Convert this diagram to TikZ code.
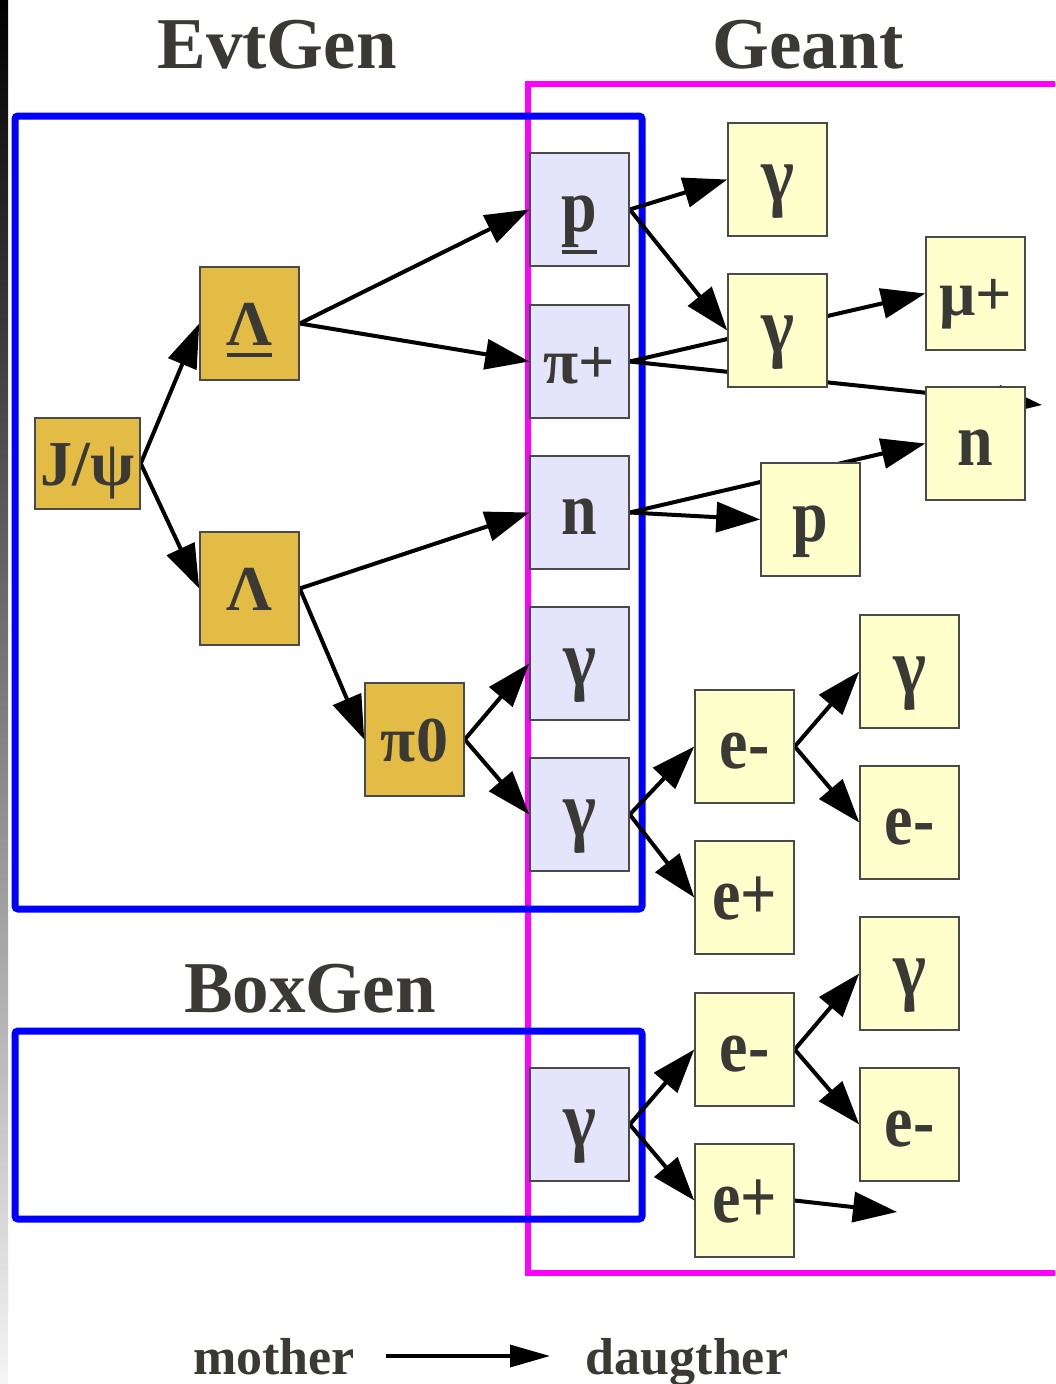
\documentclass[tikz,border=0pt]{standalone}
\usepackage{fontspec}
\usepackage{graphicx}
\setmainfont{Liberation Serif}
\usetikzlibrary{arrows.meta}
\definecolor{txt}{HTML}{3A3935}
\definecolor{gold}{HTML}{E3BC45}
\definecolor{lav}{HTML}{E4E4FA}
\definecolor{pale}{HTML}{FFFFCC}
\definecolor{mag}{HTML}{FF00FF}
\definecolor{bord}{HTML}{4A4A4A}
\newcommand\barbelow[2]{\setbox0\hbox{#2}\rlap{\raisebox{#1}{\rule{\wd0}{3.5pt}}}\box0}
\newcommand\tallt[1]{\scalebox{1}[1.18]{#1}}
\newcommand\gam{\scalebox{1.1}[1.25]{γ}}
\pgfdeclarelayer{bg}
\pgfsetlayers{bg,main}
\begin{document}
\begin{tikzpicture}[x=1pt,y=-1pt,
  pbox/.style={draw=bord, line width=1.5pt, minimum width=99pt, minimum height=113pt, inner sep=0pt, text height=48pt, text depth=4pt, text=txt, font=\fontsize{64}{64}\selectfont\bfseries},
  gbox/.style={pbox, fill=gold},
  lbox/.style={pbox, fill=lav},
  ybox/.style={pbox, fill=pale},
  arr/.style={line width=4pt, -{Triangle[length=44pt,width=30pt]}},
  legarr/.style={line width=3.5pt, -{Triangle[length=40pt,width=22pt]}},
  title/.style={text=txt, font=\fontsize{73}{73}\selectfont\bfseries, anchor=base, inner sep=0pt},
  legend/.style={text=txt, font=\fontsize{52}{52}\selectfont\bfseries, anchor=base, inner sep=0pt},
]
\useasboundingbox (0,0) rectangle (1055,1384);

% titles
\node[title] (tevt) at (277,68) {EvtGen};
\node[title] (tgea) at (808,68) {Geant};
\node[title] (tbox) at (310,1012) {BoxGen};

% nodes
\node[gbox, minimum width=105pt, minimum height=91pt] (jpsi) at (87.5,463.5) {J/ψ};
\node[gbox] (L1) at (249.5,323.5) {\barbelow{-11pt}{Λ}};
\node[gbox] (L2) at (249.5,588.5) {Λ};
\node[gbox] (pi0) at (414.5,739.5) {π0};

\node[lbox] (p) at (579.5,209.5) {\tallt{\barbelow{-19pt}{p}}};
\node[lbox] (pip) at (579.5,361.5) {π+};
\node[lbox] (n) at (579.5,512.5) {\tallt{n}};
\node[lbox] (g1) at (579.5,663.5) {\gam};
\node[lbox] (g2) at (579.5,814.5) {\gam};
\node[lbox] (g3) at (579.5,1124.5) {\gam};

\node[ybox] (yg1) at (777.5,179.5) {\gam};
\node[ybox] (yg2) at (777.5,330.5) {\gam};
\node[ybox] (mu) at (975.5,293.5) {μ+};
\node[ybox] (yn) at (975.5,443.5) {\tallt{n}};
\node[ybox] (yp) at (810.5,519.5) {\tallt{p}};

\node[ybox] (em1) at (744.5,746.5) {\tallt{e-}};
\node[ybox] (ep1) at (744.5,897.5) {\tallt{e+}};
\node[ybox] (yg4) at (909.5,671.5) {\gam};
\node[ybox] (em2) at (909.5,822.5) {\tallt{e-}};

\node[ybox] (em3) at (744.5,1049.5) {\tallt{e-}};
\node[ybox] (ep3) at (744.5,1200.5) {\tallt{e+}};
\node[ybox] (yg5) at (909.5,973.5) {\gam};
\node[ybox] (em4) at (909.5,1124.5) {\tallt{e-}};

\coordinate (out1) at (1042,405);
\coordinate (out2) at (897,1212);

% legend
\node[legend] (mo) at (274,1374) {mother};
\node[legend] (da) at (687,1374) {daugther};
\coordinate (la) at (386,1356);
\coordinate (lb) at (550,1356);

\begin{pgfonlayer}{bg}
\begin{scope}
\clip (0,0) rectangle (1055,1384);
\fill[white] (0,0) rectangle (1055,1384);
\shade[top color=black, bottom color=black!4] (0,0) rectangle (8,1384);
\draw[mag, line width=6pt] (528,84) rectangle (1075,1273);
\end{scope}
\draw[blue, line width=7pt, rounded corners=3pt] (15,116) rectangle (642,909);
\draw[blue, line width=7pt, rounded corners=3pt] (15,1031) rectangle (642,1219);

\draw[arr] (jpsi.east) -- (L1.west);
\draw[arr] (jpsi.east) -- (L2.west);
\draw[arr] (L1.east) -- (p.west);
\draw[arr] (L1.east) -- (pip.west);
\draw[arr] (L2.east) -- (n.west);
\draw[arr] (L2.east) -- (pi0.west);
\draw[arr] (pi0.east) -- (g1.west);
\draw[arr] (pi0.east) -- (g2.west);

\draw[arr] (p.east) -- (yg1.west);
\draw[arr] (p.east) -- (yg2.west);
\draw[arr] (pip.east) -- (mu.west);
\draw[arr] (pip.east) -- (out1);
\draw[arr] (n.east) -- (yp.west);
\draw[arr] (n.east) -- (yn.west);

\draw[arr] (g2.east) -- (em1.west);
\draw[arr] (g2.east) -- (ep1.west);
\draw[arr] (em1.east) -- (yg4.west);
\draw[arr] (em1.east) -- (em2.west);

\draw[arr] (g3.east) -- (em3.west);
\draw[arr] (g3.east) -- (ep3.west);
\draw[arr] (em3.east) -- (yg5.west);
\draw[arr] (em3.east) -- (em4.west);
\draw[arr] (ep3.east) -- (out2);

\draw[legarr] (la) -- (lb);
\end{pgfonlayer}
\end{tikzpicture}
\end{document}
